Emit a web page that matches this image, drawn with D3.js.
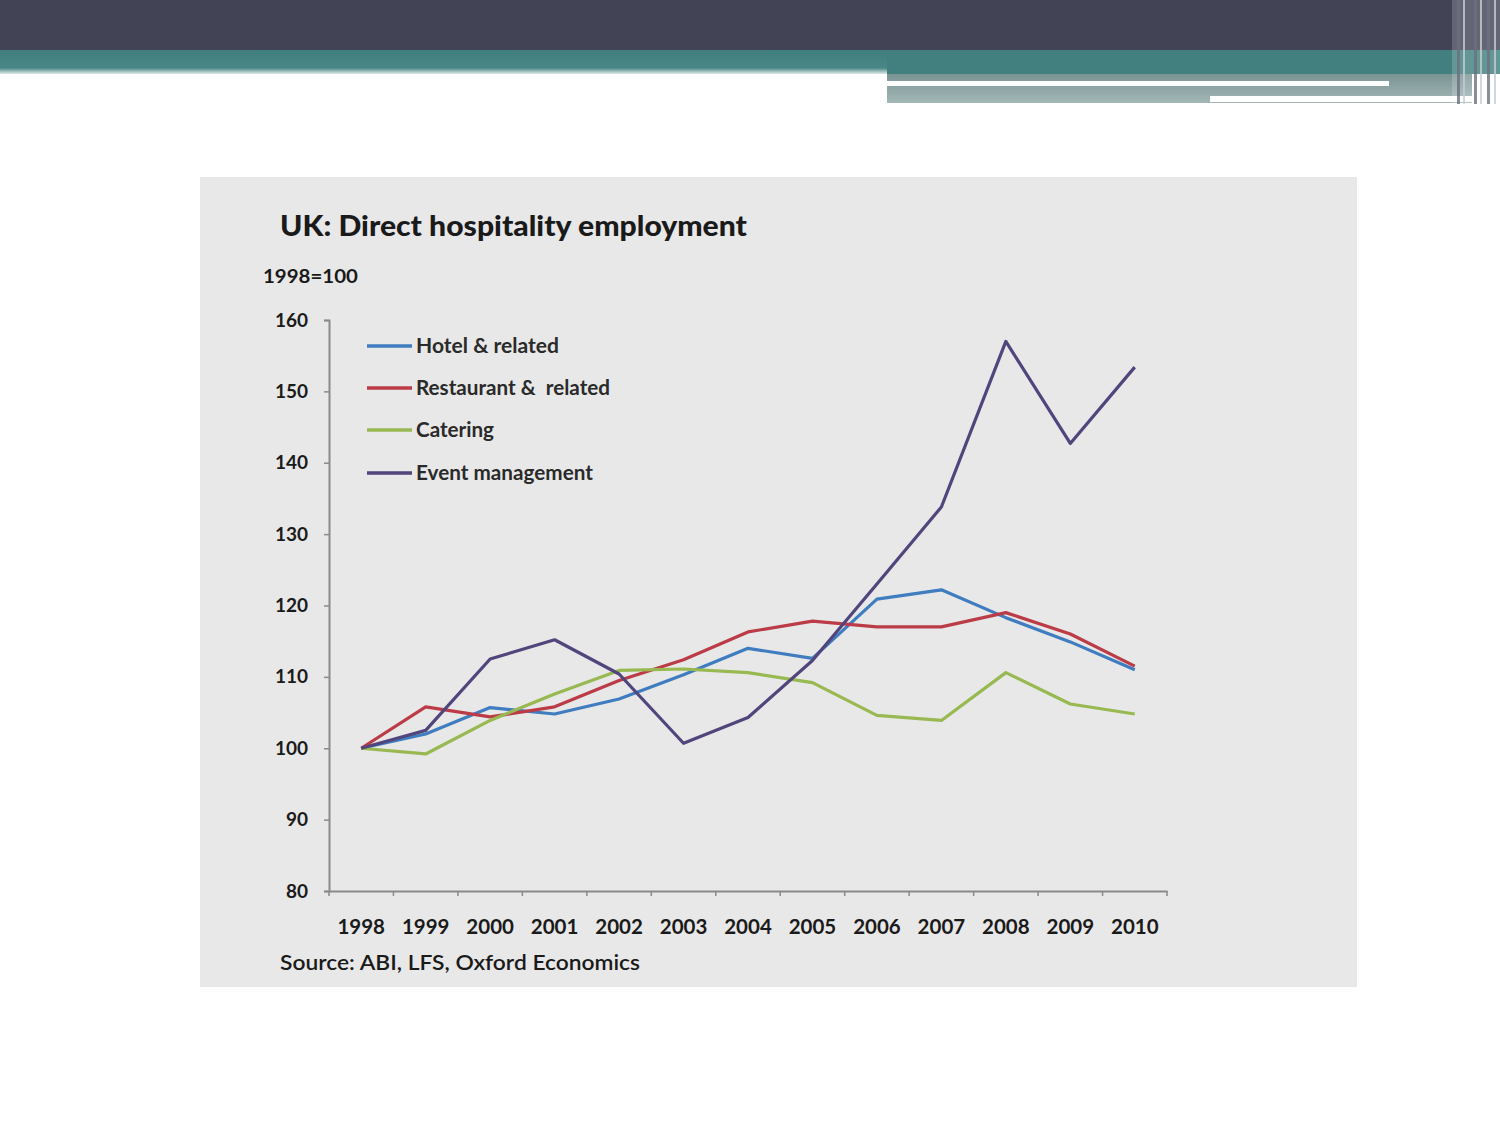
<!DOCTYPE html>
<html><head><meta charset="utf-8">
<script src="https://cdn.jsdelivr.net/npm/d3@7"></script>
<style>html,body{margin:0;padding:0;background:#fff}svg{display:block}</style>
</head><body>
<svg id="c" width="1500" height="1125"></svg>
<script>
const years = ["1998","1999","2000","2001","2002","2003","2004","2005","2006","2007","2008","2009","2010"];
const hotel      = [100, 102.0, 105.7, 104.8, 106.9, 110.3, 114.0, 112.6, 120.9, 122.2, 118.3, 114.9, 111.0];
const restaurant = [100, 105.8, 104.4, 105.8, 109.5, 112.4, 116.3, 117.8, 117.0, 117.0, 119.0, 116.0, 111.5];
const catering   = [100, 99.2, 103.9, 107.6, 110.9, 111.1, 110.6, 109.2, 104.6, 103.9, 110.6, 106.2, 104.8];
const eventMgmt  = [100, 102.5, 112.5, 115.2, 110.4, 100.7, 104.3, 112.3, 123.0, 133.8, 157.0, 142.7, 153.4];
const seriesNames = ["Hotel & related","Restaurant &\u00a0 related","Catering","Event management"];
const yTicks = [80, 90, 100, 110, 120, 130, 140, 150, 160];

const colors = ["#3f7cc0","#bb3c47","#98b951","#51457c"];
const series = [hotel, restaurant, catering, eventMgmt].map((v,i)=>({name:seriesNames[i], values:v, color:colors[i]}));

const svg = d3.select("#c");
const FONT = "Lato, 'Open Sans', sans-serif";

// Slide header decoration
const defs = svg.append("defs");
const g1 = defs.append("linearGradient").attr("id","tealfade").attr("x1",0).attr("y1",0).attr("x2",0).attr("y2",1);
g1.append("stop").attr("offset","0").attr("stop-color","#3f7f7d");
g1.append("stop").attr("offset","0.75").attr("stop-color","#4a8685");
g1.append("stop").attr("offset","1").attr("stop-color","#dfe9e8");
const g2 = defs.append("linearGradient").attr("id","tealfade2").attr("x1",0).attr("y1",0).attr("x2",0).attr("y2",1);
g2.append("stop").attr("offset","0").attr("stop-color","#7a9493");
g2.append("stop").attr("offset","1").attr("stop-color","#a3b8b7");

svg.append("rect").attr("x",0).attr("y",0).attr("width",1500).attr("height",50).attr("fill","#434356");
svg.append("rect").attr("x",0).attr("y",50).attr("width",1500).attr("height",24).attr("fill","url(#tealfade)");
svg.append("rect").attr("x",887).attr("y",50).attr("width",613).attr("height",24).attr("fill","#41807e");
svg.append("rect").attr("x",887).attr("y",74).attr("width",585).attr("height",29).attr("fill","url(#tealfade2)");
svg.append("rect").attr("x",887).attr("y",81).attr("width",502).attr("height",5).attr("fill","#ffffff");
svg.append("rect").attr("x",1210).attr("y",96).attr("width",262).attr("height",6).attr("fill","#ffffff");
svg.append("rect").attr("x",1452).attr("y",0).attr("width",48).attr("height",104).attr("fill","#ffffff").attr("opacity",0.18);
[1457,1463,1474,1480,1487,1494].forEach((x,i)=>{
  svg.append("rect").attr("x",x).attr("y",0).attr("width",i%2?2:3).attr("height",104)
    .attr("fill", i%2 ? "#c8ccd2" : "#6b6f80").attr("opacity",0.8);
});

// Chart panel
svg.append("rect").attr("x",200).attr("y",177).attr("width",1157).attr("height",810).attr("fill","#e8e8e8");

const x = d3.scaleBand().domain(years).range([329,1167]);
const y = d3.scaleLinear().domain([80,160]).range([891,320]);

svg.append("text").attr("x",280).attr("y",236).attr("font-family",FONT).attr("font-weight",900)
  .attr("font-size",28).attr("fill","#1a1a1a").attr("textLength",467).attr("lengthAdjust","spacingAndGlyphs")
  .text("UK: Direct hospitality employment");
svg.append("text").attr("x",263).attr("y",283).attr("font-family",FONT).attr("font-weight",700)
  .attr("font-size",19).attr("fill","#1a1a1a").attr("textLength",95).attr("lengthAdjust","spacingAndGlyphs")
  .text("1998=100");

// Y axis
const yAxis = svg.append("g").attr("transform","translate(329,0)")
  .call(d3.axisLeft(y).tickValues(yTicks).tickSize(5).tickPadding(16));
yAxis.select(".domain").attr("stroke","#8a8a8a").attr("stroke-width",2);
yAxis.selectAll(".tick line").attr("stroke","#8a8a8a").attr("stroke-width",1.5);
yAxis.selectAll("text").attr("font-family",FONT).attr("font-weight",700).attr("font-size",19).attr("fill","#1a1a1a");

// X axis
const xAxis = svg.append("g").attr("transform","translate(0,891)")
  .call(d3.axisBottom(x).tickSize(0).tickPadding(28));
xAxis.select(".domain").attr("stroke","#8a8a8a").attr("stroke-width",2);
xAxis.selectAll("text").attr("font-family",FONT).attr("font-weight",700).attr("font-size",20.5).attr("fill","#1a1a1a");
// category boundary ticks
const bounds = years.map(d=>x(d)).concat([x.range()[1]]);
svg.append("g").selectAll("line").data(bounds).join("line")
  .attr("x1",d=>d).attr("x2",d=>d).attr("y1",891).attr("y2",896)
  .attr("stroke","#8a8a8a").attr("stroke-width",1.5);

svg.append("text").attr("x",280).attr("y",970).attr("font-family",FONT).attr("font-weight",600)
  .attr("font-size",21).attr("fill","#1a1a1a").attr("textLength",360).attr("lengthAdjust","spacingAndGlyphs")
  .text("Source: ABI, LFS, Oxford Economics");

// Lines
const line = d3.line().x((d,i)=>x(years[i]) + x.bandwidth()/2).y(d=>y(d));
svg.append("g").selectAll("path").data(series).join("path")
  .attr("d",d=>line(d.values)).attr("fill","none").attr("stroke",d=>d.color)
  .attr("stroke-width",3.2).attr("stroke-linejoin","round");

// Legend
const legY = [346, 388, 430, 473];
const legW = [143, 194, 78, 177];
const leg = svg.append("g").selectAll("g").data(series).join("g")
  .attr("transform",(d,i)=>`translate(0,${legY[i]})`);
leg.append("line").attr("x1",367).attr("x2",412).attr("y1",0).attr("y2",0)
  .attr("stroke",d=>d.color).attr("stroke-width",3.5);
leg.append("text").attr("x",416).attr("y",7).attr("font-family",FONT).attr("font-weight",700)
  .attr("font-size",20).attr("fill","#2a2a2a")
  .attr("textLength",(d,i)=>legW[i]).attr("lengthAdjust","spacingAndGlyphs")
  .text(d=>d.name);
</script>
</body></html>
